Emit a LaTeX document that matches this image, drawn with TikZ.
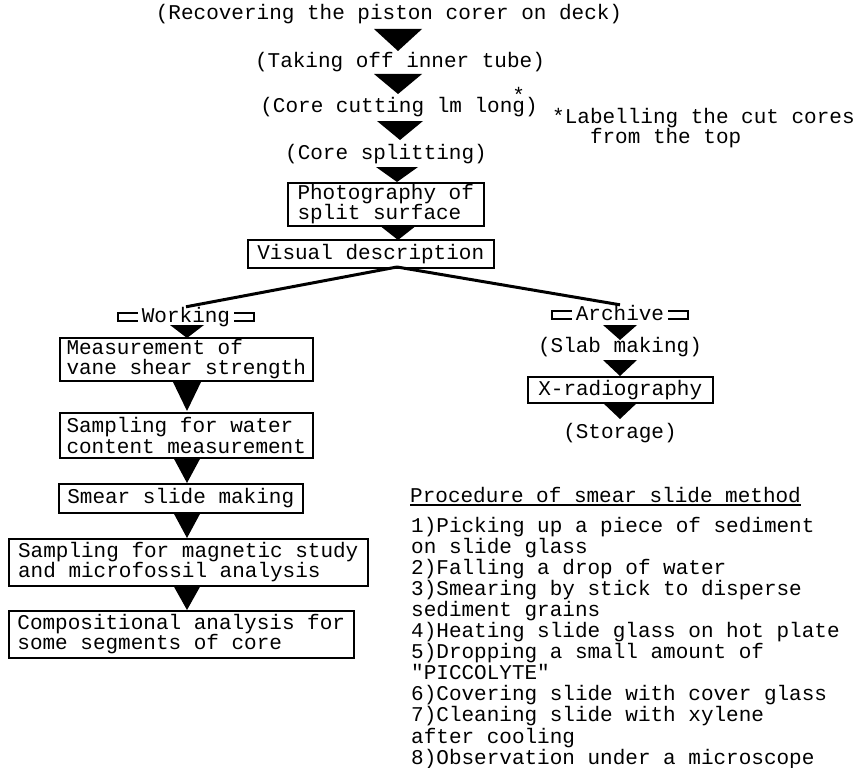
\documentclass[tikz,border=0pt]{standalone}
\usepackage{fontspec}
\setmainfont{Liberation Mono}
\usetikzlibrary{calc}
\newcommand\tf{\fontsize{21}{20.5}\selectfont}
\newcommand\tri[4]{\fill (#1-#4,#2) -- (#1+#4,#2) -- (#1,#3) -- cycle;}
\newcommand\lbr[1]{\draw[line width=1.8pt] ($(#1.base west)+(-4,-9)$) -- ++(-20,0) -- ++(0,8) -- ++(20,0);}
\newcommand\rbr[1]{\draw[line width=1.8pt] ($(#1.base east)+(4,-9)$) -- ++(20,0) -- ++(0,8) -- ++(-20,0);}
\begin{document}
\begin{tikzpicture}[x=1pt,y=-1pt,
  lbl/.style={font=\tf, inner sep=0pt, text height=15pt, text depth=5pt},
  boxn/.style={draw, line width=1.5pt, font=\tf, align=left, inner sep=0pt, anchor=north west},
  link/.style={line width=3pt}]
\useasboundingbox (0,0) rectangle (857,768);
% top chain
\node[lbl] (t1) at (389,15) {(Recovering the piston corer on deck)};
\node[lbl] (t2) at (400,63) {(Taking off inner tube)};
\node[lbl] (t3) at (399,108) {(Core cutting lm lon\makebox[0pt][l]{\raisebox{10pt}{*}}g)};
\node[lbl] (t4) at (386,154) {(Core splitting)};
\node[font=\tf, inner sep=0pt, align=left, anchor=north west, execute at begin node={\setlength{\baselineskip}{17pt}}] (note) at (552,108) {*Labelling the cut cores\\\phantom{*La}from the top};
\node[boxn, minimum width=196pt, minimum height=43pt] (b1) at (287,182) {Photography of\\split surface};
\node[boxn, minimum width=246pt, minimum height=28pt] (b2) at (247,239) {Visual description};
% working
\node[lbl] (wl) at (186,317) {Working};
\node[boxn, minimum width=253pt, minimum height=43pt] (w1) at (59,337) {Measurement of\\vane shear strength};
\node[boxn, minimum width=253pt, minimum height=45pt] (w2) at (59,412) {Sampling for water\\content measurement};
\node[boxn, minimum width=244pt, minimum height=29pt] (w3) at (58,483) {Smear slide making};
\node[boxn, minimum width=359pt, minimum height=47pt] (w4) at (8,538) {Sampling for magnetic study\\and microfossil analysis};
\node[boxn, minimum width=345pt, minimum height=47pt] (w5) at (8,610) {Compositional analysis for\\some segments of core};
% archive
\node[lbl] (al) at (620,315) {Archive};
\node[lbl] (a1) at (620,347) {(Slab making)};
\node[boxn, minimum width=185pt, minimum height=26pt] (a2) at (527,376) {X-radiography};
\node[lbl] (a3) at (620,433) {(Storage)};
% brackets
\lbr{wl}\rbr{wl}\lbr{al}\rbr{al}
% split lines
\coordinate (split) at (397,267);
\draw[link] (split) -- (wl.north);
\draw[link] (split) -- (al.north);
% triangles
\tri{398}{29}{51}{24}
\tri{398}{74}{94}{24}
\tri{400}{121}{140}{23}
\tri{397}{167}{182}{21}
\tri{398}{225}{240}{19}
\tri{187}{325}{338}{17}
\tri{187}{380}{411}{15}
\tri{187}{457}{483}{14}
\tri{187}{512}{538}{14}
\tri{187}{585}{610}{14}
\tri{620}{325}{340}{17}
\tri{620}{360}{376}{17}
\tri{620}{402}{419}{18}
% procedure
\node[lbl, anchor=west] (head) at (410,497) {Procedure of smear slide method};
\draw[line width=1.2pt] ($(head.base west)+(0,3)$) -- ($(head.base east)+(0,3)$);
\foreach \t [count=\i from 0] in {1)Picking up a piece of sediment, on slide glass, 2)Falling a drop of water, 3)Smearing by stick to disperse, sediment grains, 4)Heating slide glass on hot plate, 5)Dropping a small amount of, \textquotedbl PICCOLYTE\textquotedbl, 6)Covering slide with cover glass, 7)Cleaning slide with xylene, after cooling, 8)Observation under a microscope}
  \node[lbl, anchor=west] (li\i) at (411,527+21.1*\i) {\t};
\end{tikzpicture}
\end{document}
